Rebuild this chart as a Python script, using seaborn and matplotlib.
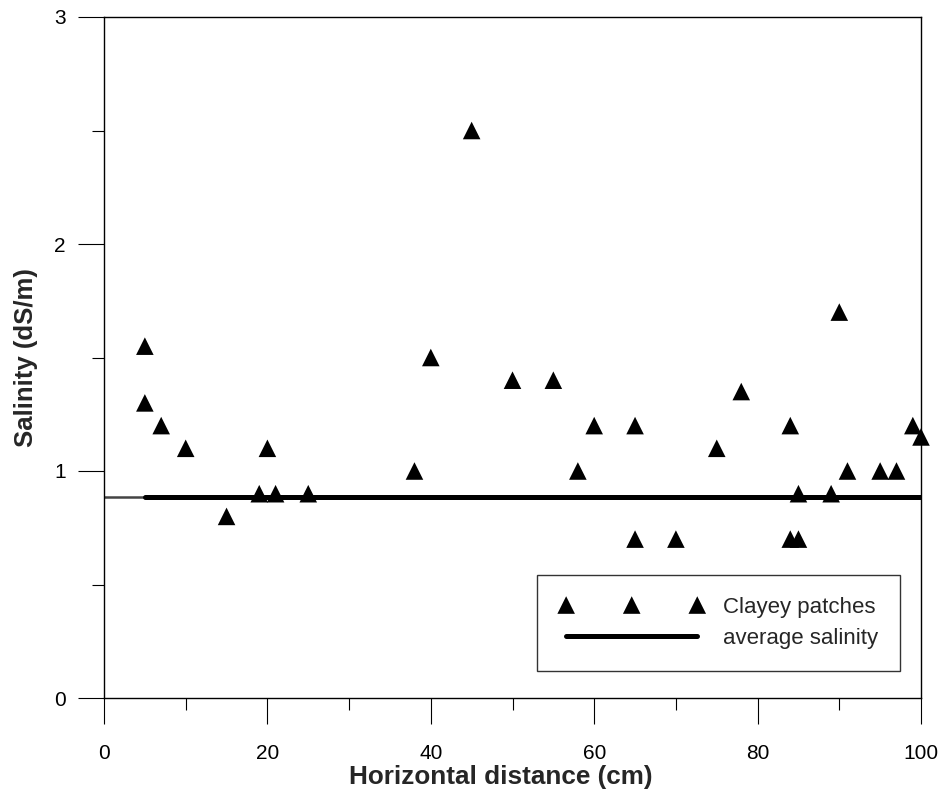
import matplotlib
matplotlib.use("Agg")
import matplotlib.pyplot as plt
from matplotlib.ticker import MultipleLocator
import seaborn as sns
import pandas as pd

distance_cm = [5, 5, 7, 10, 15, 19, 20, 21, 25, 38, 40, 45, 50, 55, 58, 60,
               65, 65, 70, 75, 78, 84, 84, 85, 85, 89, 90, 91, 95, 97, 99, 100]
salinity = [1.55, 1.3, 1.2, 1.1, 0.8, 0.9, 1.1, 0.9, 0.9, 1.0, 1.5, 2.5, 1.4, 1.4, 1.0, 1.2,
            1.2, 0.7, 0.7, 1.1, 1.35, 1.2, 0.7, 0.7, 0.9, 0.9, 1.7, 1.0, 1.0, 1.0, 1.2, 1.15]
avg_x = [5, 100]
avg_x_lead = [0, 5]
avg_salinity = 0.885

x_ticks = [0, 20, 40, 60, 80, 100]
y_ticks = [0, 1, 2, 3]

sns.set_theme(style="ticks")
plt.rcParams['font.family'] = ['Liberation Sans', 'DejaVu Sans']

df = pd.DataFrame({"x": distance_cm, "y": salinity})
avg_df = pd.DataFrame({"x": avg_x, "y": [avg_salinity] * len(avg_x)})
lead_df = pd.DataFrame({"x": avg_x_lead, "y": [avg_salinity] * len(avg_x_lead)})

fig = plt.figure(figsize=(9.43, 7.98), dpi=100)
ax = fig.add_axes([104 / 943, 100 / 798, 817 / 943, 681 / 798])

sns.lineplot(data=lead_df, x="x", y="y", ax=ax, color="#444444", linewidth=1.8, zorder=2)
sns.lineplot(data=avg_df, x="x", y="y", ax=ax, color="black", linewidth=3.6,
             label="average salinity", zorder=2, solid_capstyle="round")
sns.scatterplot(data=df, x="x", y="y", ax=ax, marker="^", s=160, color="black",
                edgecolor="none", label="Clayey patches", zorder=3, clip_on=False)

ax.set_xlim(0, 100)
ax.set_ylim(0, 3)
ax.set_xticks(x_ticks)
ax.set_yticks(y_ticks)
ax.xaxis.set_minor_locator(MultipleLocator(10))
ax.yaxis.set_minor_locator(MultipleLocator(0.5))
ax.tick_params(which="major", direction="out", length=18.5, width=0.8, colors="black",
               labelsize=15)
ax.tick_params(which="minor", direction="out", length=8.5, width=0.8, colors="black")
ax.tick_params(axis="x", which="major", pad=14.5)
ax.tick_params(axis="y", which="major", pad=9)
for sp in ax.spines.values():
    sp.set_linewidth(1.0)
    sp.set_color("black")

ax.set_xlabel("Horizontal distance (cm)", fontsize=18.8, fontweight="bold",
              labelpad=1.5, x=0.486)
ax.set_ylabel("Salinity (dS/m)", fontsize=18.5, fontweight="bold", labelpad=11.5)

handles, labels = ax.get_legend_handles_labels()
order = [labels.index("Clayey patches"), labels.index("average salinity")]
leg = ax.legend([handles[i] for i in order], [labels[i] for i in order],
                loc="lower right", bbox_to_anchor=(0.9745, 0.0396), borderaxespad=0,
                fontsize=16, frameon=True, fancybox=False, numpoints=3, scatterpoints=3,
                scatteryoffsets=[0.5], handlelength=6.5, handletextpad=0.85,
                borderpad=1.0, labelspacing=0.45)
leg.get_frame().set_edgecolor("black")
leg.get_frame().set_linewidth(1.0)

fig.savefig("out.png", dpi=100)
